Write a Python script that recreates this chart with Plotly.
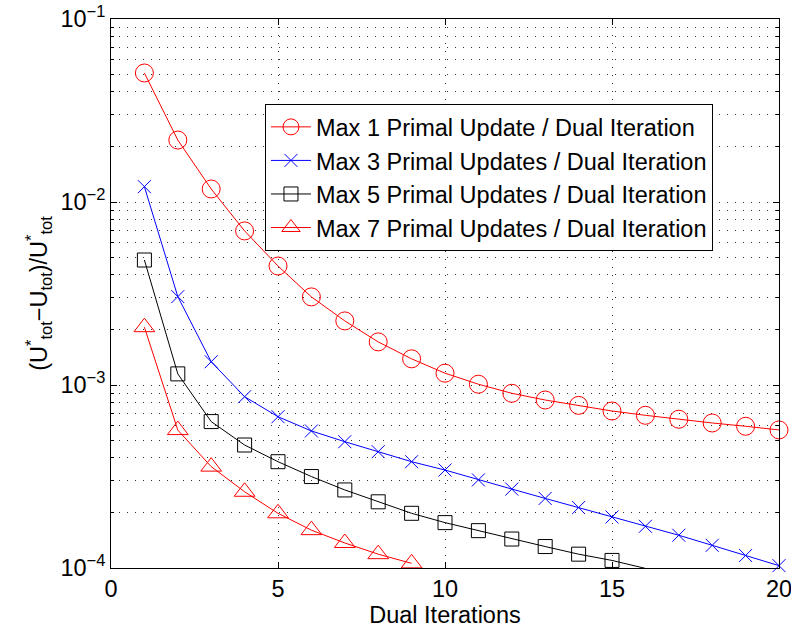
import plotly.graph_objects as go

iters_1 = list(range(1, 21))
max1 = [0.0507, 0.0218, 0.01178, 0.00695, 0.00447, 0.00303, 0.00224, 0.00172, 0.00139, 0.00116,
        0.00101, 0.000901, 0.000828, 0.000774, 0.000721, 0.000683, 0.000650, 0.000620, 0.000595, 0.000568]
iters_3 = list(range(1, 21))
max3 = [0.01213, 0.00304, 0.00134, 0.000863, 0.000671, 0.000561, 0.000490, 0.000432, 0.000381, 0.000343,
        0.000303, 0.000270, 0.000240, 0.000214, 0.000190, 0.000169, 0.000151, 0.000133, 0.000117, 0.000103]
iters_5 = list(range(1, 17))
max5 = [0.00482, 0.00115, 0.000631, 0.000470, 0.000381, 0.000316, 0.000267, 0.000230, 0.000199, 0.000177,
        0.000160, 0.000144, 0.000131, 0.000119, 0.000110, 0.0000995]
iters_7 = list(range(1, 10))
max7 = [0.00207, 0.000567, 0.000358, 0.000261, 0.000199, 0.000161, 0.000137, 0.000119, 0.000106]

names = ["Max 1 Primal Update / Dual Iteration",
         "Max 3 Primal Updates / Dual Iteration",
         "Max 5 Primal Updates / Dual Iteration",
         "Max 7 Primal Updates / Dual Iteration"]

y_tickvals = [1e-4, 1e-3, 1e-2, 1e-1]
y_ticktext = ["10<sup>−4</sup>", "10<sup>−3</sup>", "10<sup>−2</sup>", "10<sup>−1</sup>"]
x_tickvals = [0, 5, 10, 15, 20]

minor_y = [k * 10.0 ** e for e in range(-4, -1) for k in range(2, 10)]

FONT = "Liberation Sans, Arial, Helvetica, sans-serif"
GRID = "#333333"
DASH = "1px,7px"

fig = go.Figure()
specs = [
    (iters_1, max1, "#ff0000", "circle-open", 18),
    (iters_3, max3, "#0000ff", "x-thin-open", 13),
    (iters_5, max5, "#000000", "square-open", 14),
    (iters_7, max7, "#ff0000", "triangle-up-open", 18),
]
for (xs, ys, c, sym, sz), nm in zip(specs, names):
    fig.add_trace(go.Scatter(
        x=xs, y=ys, name=nm, mode="lines+markers",
        line=dict(color=c, width=1),
        marker=dict(symbol=sym, size=sz, color=c, line=dict(color=c, width=1)),
        cliponaxis=False,
    ))

fig.update_layout(
    width=791, height=635,
    margin=dict(l=111, r=12, t=19, b=67),
    paper_bgcolor="white", plot_bgcolor="white",
    font=dict(family=FONT, size=23.5, color="black"),
    showlegend=True,
    legend=dict(x=0.2305, y=0.845, xanchor="left", yanchor="top",
                bgcolor="white", bordercolor="black", borderwidth=1,
                font=dict(size=23.5), itemwidth=40, tracegroupgap=0),
)
fig.update_xaxes(
    range=[0, 20], tickvals=x_tickvals, ticks="inside", ticklen=6, tickcolor="black",
    showline=True, linecolor="black", linewidth=1, mirror="ticks",
    showgrid=True, gridcolor=GRID, griddash=DASH, gridwidth=1,
    zeroline=False, tickfont=dict(size=23.5), automargin=False,
    ticklabeloverflow="allow",
    title=dict(text="Dual Iterations", font=dict(size=23.5), standoff=0),
)
fig.update_yaxes(
    type="log", range=[-4, -1], tickvals=y_tickvals, ticktext=y_ticktext,
    ticks="inside", ticklen=6, tickcolor="black",
    showline=True, linecolor="black", linewidth=1, mirror="ticks",
    showgrid=True, gridcolor=GRID, griddash=DASH, gridwidth=1,
    zeroline=False, tickfont=dict(size=23.5), automargin=False,
    ticklabeloverflow="allow",
    minor=dict(tickvals=minor_y, ticks="inside", ticklen=3, tickcolor="black",
               showgrid=True, gridcolor=GRID, griddash=DASH, gridwidth=1),
    title=dict(text="(U<sup>*</sup><sub>tot</sub>−U<sub>tot</sub>)/U<sup>*</sup><sub>tot</sub>",
               font=dict(size=23.5), standoff=6),
)

fig.write_html(
    "out.html",
    config={"displayModeBar": False},
    post_script="document.body.style.margin='0';document.body.style.overflow='hidden';",
)
